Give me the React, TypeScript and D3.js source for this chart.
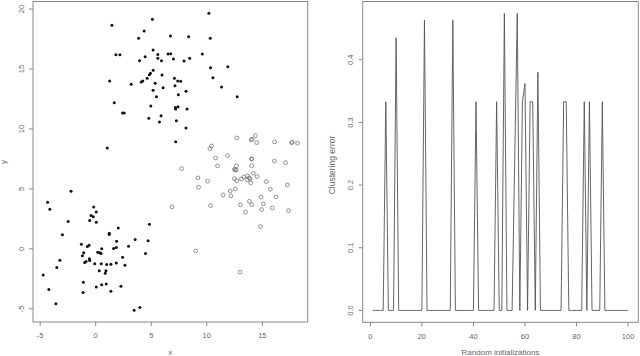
import { useEffect, useRef } from "react";
import * as d3 from "d3";

// left panel: two filled clusters + one open cluster
const filledUpper: [number, number][] = [
  [10.19, 19.64], [5.11, 19.14], [1.46, 18.64], [4.36, 18.17], [3.86, 17.56],
  [6.73, 17.75], [8.37, 17.69], [10.31, 17.56], [1.82, 16.19], [2.18, 16.19],
  [5.17, 16.58], [5.59, 16.22], [6.51, 16.25], [6.75, 16.28], [4.45, 16.03],
  [3.95, 15.69], [5.59, 15.89], [5.92, 15.69], [7.0, 15.83], [7.95, 15.67],
  [8.46, 15.89], [9.6, 16.25], [10.34, 15.11], [11.89, 15.19], [5.17, 14.89],
  [4.93, 14.64], [4.84, 14.53], [5.97, 14.5], [4.63, 14.22], [4.24, 14.0],
  [4.09, 13.92], [1.26, 14.0], [3.19, 13.72], [5.35, 13.81], [7.09, 14.22],
  [7.38, 14.0], [7.65, 13.97], [7.14, 13.61], [10.55, 14.28], [6.07, 13.44],
  [5.17, 13.22], [8.13, 13.14], [11.33, 13.5], [7.44, 12.86], [5.47, 12.69],
  [12.74, 12.69], [1.67, 12.19], [4.96, 11.92], [7.41, 11.86], [7.17, 11.78],
  [7.2, 11.67], [8.22, 11.67], [2.42, 11.33], [2.57, 11.33], [5.88, 11.11],
  [4.78, 10.89], [7.26, 10.69], [5.74, 10.58], [8.13, 10.08], [1.04, 8.42],
  [7.2, 8.94],
];

const filledLower: [number, number][] = [
  [-2.22, 4.81], [-4.34, 3.89], [-4.13, 3.31], [-0.18, 3.5], [0.05, 3.08],
  [-0.42, 2.78], [-0.22, 2.67], [-0.54, 2.36], [0.05, 2.22], [-2.48, 2.28],
  [2.03, 1.75], [4.84, 2.06], [-3.0, 1.17], [1.22, 1.31], [1.22, 1.19],
  [1.88, 0.64], [3.55, 0.78], [4.72, 0.67], [-1.29, 0.39], [-0.6, 0.31],
  [-0.75, 0.19], [2.96, 0.22], [1.85, 0.11], [1.61, 0.03], [0.54, 0.0],
  [-1.08, -0.33], [-1.2, -0.58], [0.18, -0.28], [0.36, -0.33], [0.48, -0.39],
  [4.48, -0.39], [2.42, -0.69], [-3.23, -0.94], [-0.57, -0.83], [-0.54, -0.97],
  [-0.87, -1.06], [-0.99, -1.14], [-0.09, -1.25], [0.5, -1.25], [0.99, -1.31],
  [1.37, -1.28], [1.85, -1.17], [2.63, -1.36], [-3.5, -1.56], [0.32, -1.83],
  [0.92, -1.83], [0.86, -2.03], [-4.73, -2.19], [-1.11, -2.78], [0.95, -2.94],
  [0.54, -3.0], [2.27, -3.11], [0.05, -3.19], [-4.22, -3.39], [1.37, -3.53],
  [-1.14, -3.64], [-3.59, -4.58], [3.46, -5.11], [3.97, -4.89],
];

const openPts: [number, number][] = [
  [14.38, 9.44], [14.08, 9.14], [13.99, 9.08], [12.7, 9.25], [14.49, 8.86],
  [16.11, 8.92], [17.63, 8.86], [17.7, 8.89], [18.17, 8.81], [10.43, 8.58],
  [10.28, 8.36], [11.87, 7.78], [10.79, 7.58], [14.02, 7.5], [14.06, 7.5],
  [16.08, 7.33], [17.09, 7.19], [10.97, 6.92], [12.67, 6.92], [14.04, 6.94],
  [7.74, 6.69], [12.49, 6.64], [12.65, 6.58], [12.55, 6.58], [9.2, 5.92],
  [10.07, 5.64], [12.49, 5.86], [12.7, 5.69], [13.12, 5.83], [13.33, 6.0],
  [13.66, 6.08], [13.81, 5.92], [13.9, 5.86], [14.2, 6.31], [14.53, 6.03],
  [13.66, 5.75], [13.96, 5.5], [15.36, 5.61], [9.26, 5.14], [17.25, 5.33],
  [12.56, 5.0], [12.11, 4.83], [15.72, 4.97], [11.48, 4.5], [12.17, 4.42],
  [14.89, 4.31], [16.23, 4.33], [13.84, 3.97], [14.04, 3.69], [15.09, 3.75],
  [10.34, 3.61], [13.03, 3.67], [15.9, 3.42], [14.94, 3.28], [17.36, 3.19],
  [13.48, 3.06], [14.83, 1.86], [9.0, -0.17], [13.0, -1.94], [6.87, 3.5],
];

// right panel: clustering error for initializations 1..100
const clusterError = [
  0, 0, 0, 0, 0, 0.333, 0, 0, 0, 0.435,
  0, 0, 0, 0, 0, 0, 0, 0, 0, 0,
  0.463, 0, 0, 0, 0, 0, 0, 0, 0, 0,
  0, 0.463, 0, 0, 0, 0, 0, 0, 0, 0,
  0.333, 0, 0, 0, 0, 0, 0, 0, 0.333, 0,
  0, 0.474, 0, 0, 0, 0.237, 0.474, 0, 0.333, 0.362,
  0, 0.333, 0.333, 0, 0.38, 0, 0, 0, 0, 0,
  0, 0, 0, 0, 0.333, 0.333, 0, 0, 0, 0,
  0, 0, 0.333, 0, 0.333, 0, 0, 0, 0, 0.333,
  0, 0, 0, 0, 0, 0, 0, 0, 0, 0,
];

const leftXTicks = [-5, 0, 5, 10, 15];
const leftYTicks = [-5, 0, 5, 10, 15, 20];
const rightXTicks = [0, 20, 40, 60, 80, 100];
const rightYTicks = [0, 0.1, 0.2, 0.3, 0.4];

const W = 640;
const H = 356;
const AXIS = "#888";
const TXT = "#666";
const FONT = "'Liberation Sans', Arial, sans-serif";

// R style 4% padding
const pad = (lo: number, hi: number): [number, number] => {
  const d = (hi - lo) * 0.04;
  return [lo - d, hi + d];
};

function drawFrame(
  g: d3.Selection<SVGGElement, unknown, null, undefined>,
  x: d3.ScaleLinear<number, number>,
  y: d3.ScaleLinear<number, number>,
  xt: number[],
  yt: number[],
  fmtY: (v: number) => string,
  xlab: string,
  ylab: string,
  ylabX: number,
  ylabY: number,
  ylabSize: number
) {
  const [x0, x1] = x.range();
  const [y0, y1] = y.range();
  g.append("rect")
    .attr("x", x0)
    .attr("y", y1)
    .attr("width", x1 - x0)
    .attr("height", y0 - y1)
    .attr("fill", "none")
    .attr("stroke", AXIS);

  xt.forEach(t => {
    g.append("line")
      .attr("x1", x(t)).attr("x2", x(t))
      .attr("y1", y0).attr("y2", y0 + 4)
      .attr("stroke", AXIS);
    g.append("text")
      .attr("x", x(t))
      .attr("y", y0 + 16.3)
      .attr("text-anchor", "middle")
      .attr("font-size", 7.5)
      .attr("fill", TXT)
      .text(String(t));
  });

  yt.forEach(t => {
    g.append("line")
      .attr("x1", x0 - 4).attr("x2", x0)
      .attr("y1", y(t)).attr("y2", y(t))
      .attr("stroke", AXIS);
    g.append("text")
      .attr("transform", `translate(${x0 - 9.5},${y(t)}) rotate(-90)`)
      .attr("text-anchor", "middle")
      .attr("font-size", 7.5)
      .attr("fill", TXT)
      .text(fmtY(t));
  });

  g.append("text")
    .attr("x", (x0 + x1) / 2)
    .attr("y", 355)
    .attr("text-anchor", "middle")
    .attr("font-size", 8)
    .attr("fill", TXT)
    .text(xlab);

  g.append("text")
    .attr("transform", `translate(${ylabX},${ylabY}) rotate(-90)`)
    .attr("text-anchor", "middle")
    .attr("font-size", ylabSize)
    .attr("fill", TXT)
    .text(ylab);
}

const App = () => {
  const ref = useRef<SVGSVGElement>(null);

  useEffect(() => {
    if (!ref.current) return;
    const svg = d3.select(ref.current);
    svg.selectAll("*").remove();
    svg.append("rect").attr("width", W).attr("height", H).attr("fill", "#fff");

    // ---- left: scatter
    const all = [...filledUpper, ...filledLower, ...openPts];
    const xl = d3.scaleLinear()
      .domain(pad(d3.min(all, d => d[0])!, d3.max(all, d => d[0])!))
      .range([33, 307.7]);
    const yl = d3.scaleLinear()
      .domain(pad(d3.min(all, d => d[1])!, d3.max(all, d => d[1])!))
      .range([322, 1.5]);

    const gl = svg.append("g").attr("font-family", FONT);
    drawFrame(gl, xl, yl, leftXTicks, leftYTicks, v => String(v), "x", "y", 5.5, 162, 8);

    gl.append("g")
      .selectAll("circle")
      .data(openPts)
      .join("circle")
      .attr("cx", d => xl(d[0]))
      .attr("cy", d => yl(d[1]))
      .attr("r", 1.9)
      .attr("fill", "none")
      .attr("stroke", "#777")
      .attr("stroke-width", 0.8);

    gl.append("g")
      .selectAll("circle")
      .data([...filledUpper, ...filledLower])
      .join("circle")
      .attr("cx", d => xl(d[0]))
      .attr("cy", d => yl(d[1]))
      .attr("r", 1.5)
      .attr("fill", "#111");

    // ---- right: clustering error line
    const xr = d3.scaleLinear()
      .domain(pad(1, clusterError.length))
      .range([362.7, 638.3]);
    const yr = d3.scaleLinear()
      .domain(pad(0, d3.max(clusterError)!))
      .range([322.3, 1.5]);

    const gr = svg.append("g").attr("font-family", FONT);
    drawFrame(gr, xr, yr, rightXTicks, rightYTicks, d3.format(".1f"),
      "Random initializations", "Clustering error", 334.5, 165, 8.5);

    const line = d3.line<number>()
      .x((_, i) => xr(i + 1))
      .y(d => yr(d));

    gr.append("path")
      .datum(clusterError)
      .attr("fill", "none")
      .attr("stroke", "#555")
      .attr("stroke-width", 0.9)
      .attr("stroke-linejoin", "miter")
      .attr("d", line);
  }, []);

  return (
    <svg
      ref={ref}
      width={W}
      height={H}
      style={{ position: "absolute", left: 0, top: 0, display: "block" }}
    />
  );
};

export default App;
